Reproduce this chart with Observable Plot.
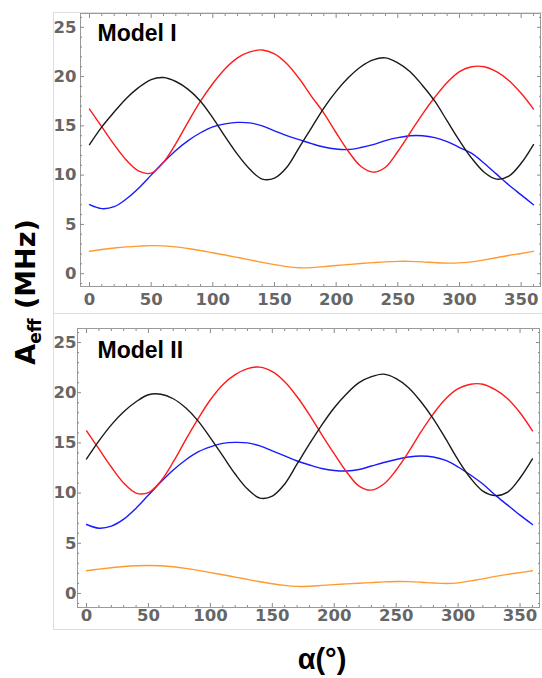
<!DOCTYPE html>
<html><head><meta charset="utf-8">
<script src="https://cdn.jsdelivr.net/npm/d3@7"></script>
<script src="https://cdn.jsdelivr.net/npm/@observablehq/plot@0.6"></script>
<style>
body{margin:0;background:#fff;}
#wrap{position:relative;width:542px;height:678px;overflow:hidden;background:#fff;}
.box{position:absolute;border:1px solid #dedede;box-sizing:border-box;}
.panel{position:absolute;left:0;}
#over{position:absolute;left:0;top:0;pointer-events:none;}
</style></head>
<body><div id="wrap">
<div class="box" style="left:53px;top:12px;width:490px;height:302px"></div>
<div class="box" style="left:53px;top:313px;width:490px;height:317px"></div>
<div class="panel" id="p1" style="top:0"></div>
<div class="panel" id="p2" style="top:313px"></div>
</div>
<script>
const alpha = [0,10,20,30,40,50,60,70,80,90,100,110,120,130,140,150,160,170,180,190,200,210,220,230,240,250,260,270,280,290,300,310,320,330,340,350,360];

// Model I
const blackI  = [13.1,14.9,16.4,17.8,18.9,19.7,19.9,19.5,18.7,17.5,15.8,13.9,12.1,10.6,9.6,9.7,10.8,12.8,14.8,16.8,18.5,19.9,21.0,21.7,21.9,21.4,20.5,19.1,17.5,15.5,13.5,11.7,10.3,9.6,9.9,11.2,13.1];
const redI    = [16.7,14.9,13.1,11.5,10.4,10.2,11.3,13.2,15.4,17.5,19.3,20.8,21.9,22.5,22.7,22.3,21.3,19.8,18.0,16.3,14.3,12.4,10.9,10.3,10.8,12.4,14.3,16.2,17.9,19.4,20.5,21.0,21.0,20.5,19.6,18.3,16.7];
const blueI   = [7.0,6.6,6.8,7.6,8.7,10.0,11.3,12.5,13.5,14.3,14.9,15.2,15.35,15.3,15.0,14.5,14.0,13.6,13.2,12.85,12.65,12.6,12.8,13.1,13.5,13.8,14.0,14.0,13.8,13.4,12.8,12.2,11.2,10.1,9.0,8.0,7.0];
const orangeI = [2.27,2.45,2.6,2.72,2.8,2.85,2.82,2.72,2.55,2.35,2.12,1.9,1.65,1.4,1.15,0.92,0.72,0.6,0.62,0.72,0.83,0.93,1.03,1.12,1.2,1.25,1.25,1.2,1.12,1.07,1.1,1.2,1.4,1.62,1.85,2.05,2.27];

// Model II
const blackII  = [13.4,15.2,16.8,18.1,19.1,19.8,19.85,19.4,18.5,17.2,15.5,13.7,11.9,10.4,9.5,9.7,10.9,12.9,14.9,16.8,18.5,19.9,21.0,21.6,21.85,21.4,20.5,19.1,17.4,15.4,13.3,11.5,10.2,9.75,10.1,11.5,13.4];
const redII    = [16.2,14.4,12.6,11.0,10.0,10.05,11.2,13.1,15.3,17.4,19.3,20.8,21.8,22.4,22.55,22.1,21.1,19.6,17.8,15.8,13.9,12.1,10.7,10.3,10.9,12.3,14.1,16.1,17.9,19.4,20.4,20.85,20.85,20.3,19.4,18.0,16.2];
const blueII   = [6.87,6.5,6.7,7.4,8.5,9.8,11.1,12.3,13.3,14.1,14.6,14.95,15.05,15.0,14.7,14.2,13.7,13.2,12.8,12.45,12.25,12.2,12.35,12.7,13.05,13.35,13.6,13.7,13.6,13.25,12.6,11.8,10.9,9.8,8.8,7.8,6.87];
const orangeII = [2.26,2.42,2.56,2.68,2.76,2.79,2.76,2.66,2.5,2.3,2.08,1.86,1.63,1.4,1.17,0.96,0.8,0.7,0.72,0.8,0.88,0.95,1.02,1.08,1.15,1.19,1.18,1.12,1.04,0.99,1.05,1.25,1.45,1.7,1.9,2.08,2.26];

const xMajor = [0,50,100,150,200,250,300,350];
const xMinor = [10,20,30,40,60,70,80,90,110,120,130,140,160,170,180,190,210,220,230,240,260,270,280,290,310,320,330,340,360];
const yMajor = [0,5,10,15,20,25];
const yMinor = [-1,1,2,3,4,6,7,8,9,11,12,13,14,16,17,18,19,21,22,23,24,26];

const colors = {black:"#1a1a1a", red:"#ff1a1a", blue:"#1a1aff", orange:"#ff9a2e"};
const tickColor = "#8a8a8a";
const labelFont = "'DejaVu Sans', Verdana, sans-serif";

function panel(opts) {
  const {title, series, height, mt, mb, ml, mr, yDomain, xPad, yPad, tdx, tdy} = opts;
  const none = () => "";
  const marks = [];
  for (const s of series) {
    marks.push(Plot.line(s.values, {x: (d, i) => alpha[i], y: d => d, stroke: s.color, strokeWidth: 1.4, curve: "catmull-rom"}));
  }
  marks.push(
    Plot.frame({stroke: "#9a9a9a", strokeWidth: 1}),
    // bottom
    Plot.axisX(xMajor, {anchor: "bottom", tickSize: -4, tickPadding: xPad + 4, stroke: tickColor, fill: "#666", fontSize: 16.5, fontWeight: "bold", fontFamily: labelFont, label: null}),
    Plot.axisX(xMinor, {anchor: "bottom", tickSize: -2, tickFormat: none, stroke: tickColor, label: null}),
    // top
    Plot.axisX(xMajor, {anchor: "top", tickSize: -4, tickFormat: none, stroke: tickColor, label: null}),
    Plot.axisX(xMinor, {anchor: "top", tickSize: -2, tickFormat: none, stroke: tickColor, label: null}),
    // left
    Plot.axisY(yMajor, {anchor: "left", tickSize: -4, tickPadding: yPad + 4, stroke: tickColor, fill: "#666", fontSize: 16.5, fontWeight: "bold", fontFamily: labelFont, label: null}),
    Plot.axisY(yMinor, {anchor: "left", tickSize: -2, tickFormat: none, stroke: tickColor, label: null}),
    // right
    Plot.axisY(yMajor, {anchor: "right", tickSize: -4, tickFormat: none, stroke: tickColor, label: null}),
    Plot.axisY(yMinor, {anchor: "right", tickSize: -2, tickFormat: none, stroke: tickColor, label: null}),
    Plot.text([title], {frameAnchor: "top-left", dx: tdx, dy: tdy, textAnchor: "start", lineAnchor: "middle", fontSize: 23, fontWeight: "bold", fontFamily: "'Liberation Sans', Arial, sans-serif", fill: "#000"})
  );
  return Plot.plot({
    width: 542, height, marginTop: mt, marginBottom: mb, marginLeft: ml, marginRight: mr,
    x: {domain: [-7.3, 365.7]},
    y: {domain: yDomain},
    style: {background: "transparent", overflow: "visible"},
    marks
  });
}

document.getElementById("p1").appendChild(panel({
  title: "Model I",
  series: [
    {values: orangeI, color: colors.orange},
    {values: blueI, color: colors.blue},
    {values: redI, color: colors.red},
    {values: blackI, color: colors.black}
  ],
  height: 313, mt: 13, mb: 27, ml: 80, mr: 2,
  yDomain: [-1.3, 26.4], xPad: 7, yPad: 4, tdx: 17, tdy: 20
}));

document.getElementById("p2").appendChild(panel({
  title: "Model II",
  series: [
    {values: orangeII, color: colors.orange},
    {values: blueII, color: colors.blue},
    {values: redII, color: colors.red},
    {values: blackII, color: colors.black}
  ],
  height: 365, mt: 15, mb: 71, ml: 77, mr: 3,
  yDomain: [-1.4, 26.4], xPad: 2, yPad: 1, tdx: 20, tdy: 22
}));

// overlay: axis titles
const over = d3.select("#wrap").append("svg").attr("id", "over").attr("width", 542).attr("height", 678);
const yl = over.append("text")
  .attr("transform", "translate(35,292) rotate(-90)")
  .attr("text-anchor", "middle")
  .attr("font-family", labelFont)
  .attr("font-weight", "bold")
  .attr("font-size", 27)
  .attr("fill", "#000");
yl.append("tspan").text("A");
yl.append("tspan").attr("font-size", 17).attr("dy", 6).text("eff");
yl.append("tspan").attr("dy", -6).text(" (MHz)");
over.append("text")
  .attr("x", 322).attr("y", 669)
  .attr("text-anchor", "middle")
  .attr("font-family", "'Liberation Sans', Arial, sans-serif")
  .attr("font-weight", "bold")
  .attr("font-size", 29)
  .attr("fill", "#000")
  .text("α(°)");
</script>
</body></html>
